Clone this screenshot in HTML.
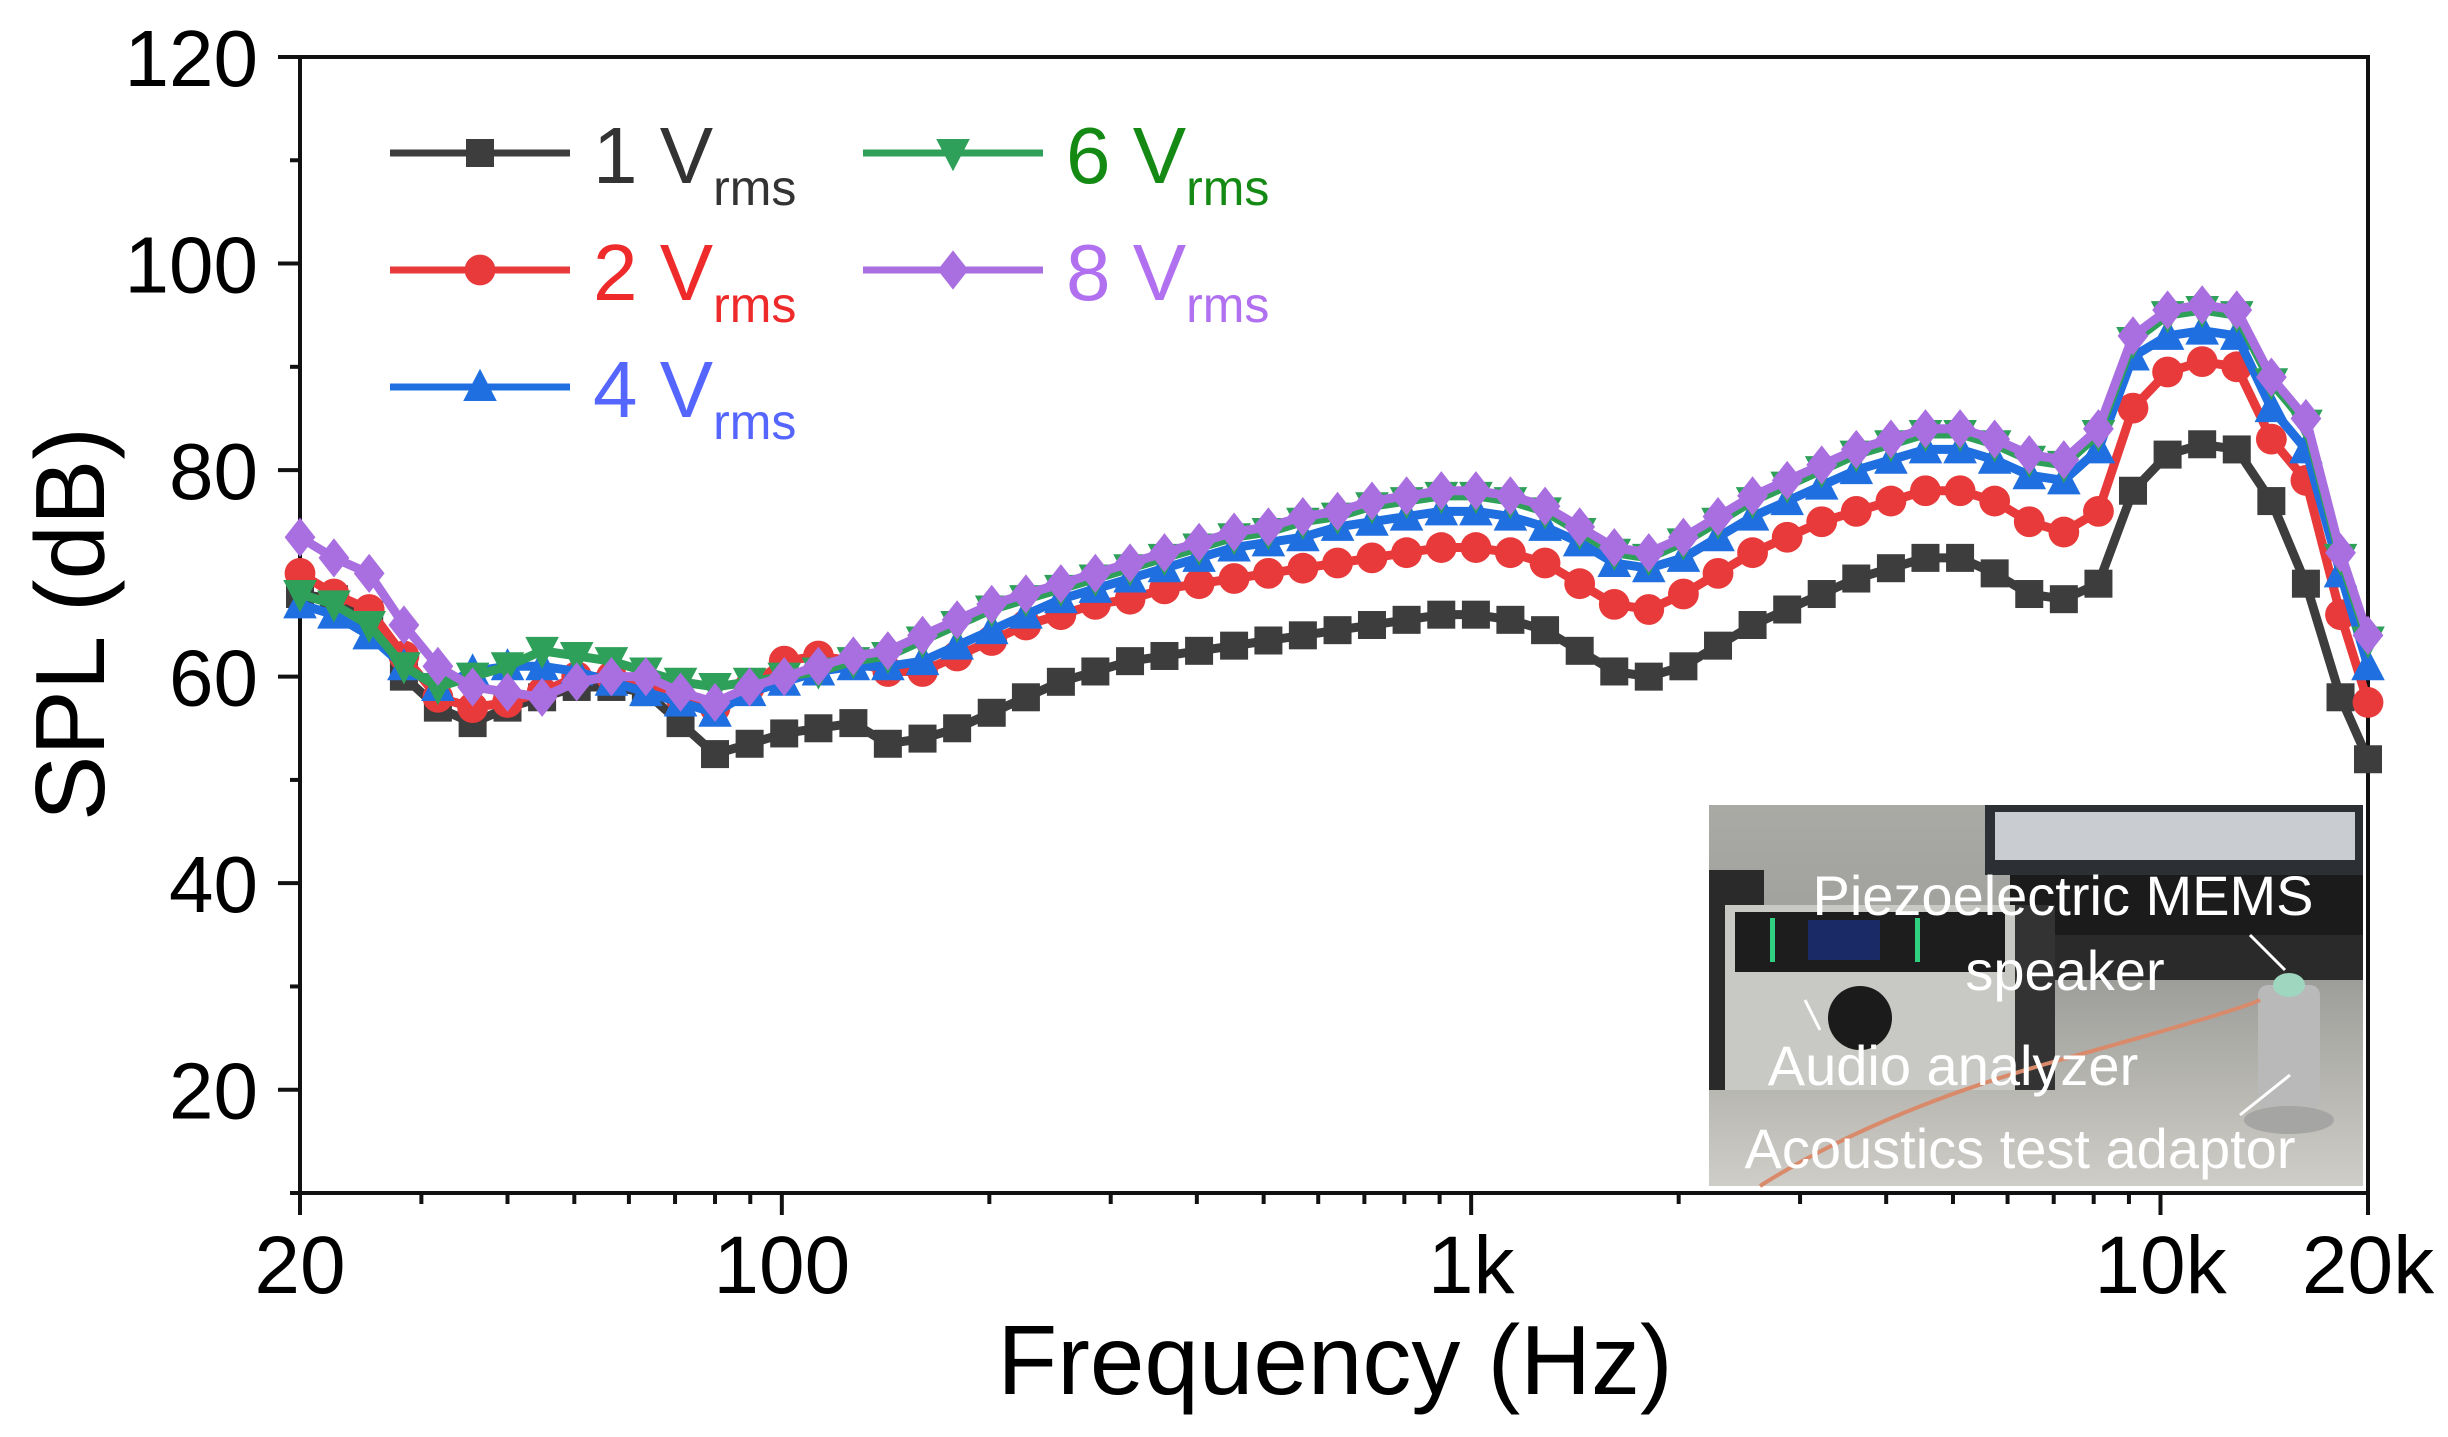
<!DOCTYPE html>
<html><head><meta charset="utf-8"><style>
html,body{margin:0;padding:0;background:#fff;}
svg{display:block;font-family:"Liberation Sans",Arial,sans-serif;}
</style></head><body>
<svg id="chart" width="2448" height="1437" viewBox="0 0 2448 1437" xmlns="http://www.w3.org/2000/svg">
<g id="inset">
  <defs>
    <linearGradient id="bg" x1="0" y1="0" x2="0" y2="1">
      <stop offset="0" stop-color="#a9aaa5"/><stop offset="0.45" stop-color="#9c9d99"/><stop offset="1" stop-color="#cfcdc7"/>
    </linearGradient>
  </defs>
  <rect x="1709" y="805" width="654" height="381" fill="url(#bg)"/>
  <rect x="1985" y="805" width="378" height="70" fill="#2c2f33"/>
  <rect x="1995" y="812" width="360" height="48" fill="#c9ccd0"/>
  <rect x="2010" y="875" width="353" height="60" fill="#1b1b1b"/>
  <rect x="2050" y="935" width="313" height="45" fill="#2a2a2a"/>
  <rect x="1709" y="870" width="55" height="220" fill="#2a2a2a"/>
  <rect x="1725" y="905" width="290" height="185" fill="#c8c8c4"/>
  <rect x="1735" y="912" width="270" height="60" fill="#1d1d1d"/>
  <rect x="1808" y="920" width="72" height="40" fill="#1a2a66"/>
  <rect x="1770" y="918" width="5" height="44" fill="#2fd080"/>
  <rect x="1915" y="918" width="5" height="44" fill="#2fd080"/>
  <circle cx="1860" cy="1018" r="32" fill="#1b1b1b"/>
  <rect x="2015" y="905" width="40" height="185" fill="#333"/>
  <rect x="2258" y="985" width="62" height="125" rx="10" fill="#b9b9b9"/>
  <ellipse cx="2289" cy="985" rx="16" ry="12" fill="#9fd6c0"/>
  <ellipse cx="2289" cy="1120" rx="45" ry="14" fill="#a5a5a3"/>
  <path d="M1760 1186 Q1880 1110 2060 1060 T2260 1000" stroke="#d98a6a" stroke-width="4" fill="none"/>
  <g fill="#fff" font-size="56">
    <text x="2063" y="915" text-anchor="middle">Piezoelectric MEMS</text>
    <text x="2065" y="990" text-anchor="middle">speaker</text>
    <text x="1953" y="1085" text-anchor="middle">Audio analyzer</text>
    <text x="2020" y="1168" text-anchor="middle">Acoustics test adaptor</text>
  </g>
  <g stroke="#fff" stroke-width="3" fill="none">
    <line x1="2250" y1="935" x2="2285" y2="970"/>
    <line x1="1805" y1="1000" x2="1820" y2="1030"/>
    <line x1="2290" y1="1075" x2="2240" y2="1115"/>
  </g>
</g>
<g id="plot"></g>
</svg>
<script>
const freqs = [20,22.4,25.2,28.3,31.7,35.6,40,44.9,50.4,56.6,63.5,71.3,80,89.8,100.8,113,127,142.5,160,179.6,201.6,226,254,285,320,359,403,453,508,570,640,718,806,905,1016,1140,1280,1437,1613,1810,2032,2281,2560,2874,3225,3620,4064,4561,5120,5747,6451,7241,8128,9123,10240,11494,12902,14482,16255,18246,20000];
const v1 = [68,67.5,66,60,57,55.5,57,58,59,59,58.5,55.5,52.5,53.5,54.5,55,55.5,53.5,54,55,56.5,58,59.5,60.5,61.5,62,62.5,63,63.5,64,64.5,65,65.5,66,66,65.5,64.5,62.5,60.5,60,61,63,65,66.5,68,69.5,70.5,71.5,71.5,70,68,67.5,69,78,81.5,82.5,82,77,69,58,52];
const v2 = [70,68,66.5,62,58,57,57.5,58.5,60,60,59.5,58,57,59,61.5,62,61.5,60.5,60.5,62,63.5,65,66,67,67.5,68.5,69,69.5,70,70.5,71,71.5,72,72.5,72.5,72,71,69,67,66.5,68,70,72,73.5,75,76,77,78,78,77,75,74,76,86,89.5,90.5,90,83,79,66,57.5];
const v4 = [67,66,64,61,59,60.5,61,61,60.5,59.5,58.5,57.5,56.5,58.5,59.5,60.5,61,61,61.5,63,64.5,66,67.5,68.5,69.5,70.5,71.5,72.5,73,73.5,74.5,75,75.5,76,76,75.5,74.5,73,71,70.5,71.5,73.5,75.5,77,78.5,80,81,82,82,81,79.5,79,82,91,93,93.5,93,86,82,70,61];
const v6 = [68,67,65,61,59,60,61,62.5,62,61.5,60.5,59.5,59,59.5,60,60.5,61.5,62,63.5,65,66.5,67.5,68.5,69.5,70.5,71.5,72.5,73.5,74,75,75.5,76.5,77,77.5,77.5,77,76,74,72,71.5,73,75,77,78.5,80,81.5,82.5,83.5,83.5,82.5,81,80.5,83.5,92.5,95,95.5,95,88.5,84.5,71.5,63.5];
const v8 = [73.5,71.5,70,65,61,59,58.5,58,59.5,60,60,58.5,57.5,59,60,61,62,62.5,64,65.5,67,68,69,70,71,72,73,74,74.5,75.5,76,77,77.5,78,78,77.5,76.5,74.5,72.5,72,73.5,75.5,77.5,79,80.5,82,83,84,84,83,81.5,81,84,93,95.5,96,95.5,89,85,72,64];
const yTicks = [20,40,60,80,100,120];
const xTickVals = [20,100,1000,10000,20000];
const xTickLabels = ["20","100","1k","10k","20k"];

const NS="http://www.w3.org/2000/svg";
const L=300,R=2368,T=57,B=1193, YMIN=10,YMAX=120;
const xs=f=>L+(R-L)*Math.log10(f/20)/3;
const ys=v=>B-(B-T)*(v-YMIN)/(YMAX-YMIN);
const plot=document.getElementById('plot');
function mk(tag,attrs,parent){const e=document.createElementNS(NS,tag);for(const k in attrs)e.setAttribute(k,attrs[k]);(parent||plot).appendChild(e);return e;}

const frame=mk('rect',{x:L,y:T,width:R-L,height:B-T,fill:'none',stroke:'#111','stroke-width':4});


for(let v=10;v<=120;v+=10){
  const major=v%20===0;
  const t=mk('line',{x1:L-(major?22:10),x2:L,y1:ys(v),y2:ys(v),stroke:'#111','stroke-width':4});
  
  
}
yTicks.forEach(v=>{
  const t=mk('text',{x:258,y:ys(v)+29,'text-anchor':'end','font-size':80,fill:'#000'});
  t.textContent=v;
  
  
});
const minorF=[];
for(let f=30;f<100;f+=10)minorF.push(f);
for(let f=200;f<1000;f+=100)minorF.push(f);
for(let f=2000;f<10000;f+=1000)minorF.push(f);
minorF.forEach(f=>{
  const t=mk('line',{x1:xs(f),x2:xs(f),y1:B,y2:B+11,stroke:'#111','stroke-width':4});
  
  
});
xTickVals.forEach((f,i)=>{
  const t=mk('line',{x1:xs(f),x2:xs(f),y1:B,y2:B+22,stroke:'#111','stroke-width':4});
  
  
  const lb=mk('text',{x:xs(f),y:1293,'text-anchor':'middle','font-size':82,fill:'#000'});
  lb.textContent=xTickLabels[i];
  
  
});
const xt=mk('text',{x:1335,y:1394,'text-anchor':'middle','font-size':98,fill:'#000'});
xt.textContent='Frequency (Hz)';


const yt=mk('text',{x:0,y:0,'text-anchor':'middle','font-size':98,fill:'#000',transform:'translate(104,624) rotate(-90)'});
yt.textContent='SPL (dB)';



function marker(g,type,x,y,color,s){
  let e;
  if(type==='square')e=mk('rect',{x:x-s,y:y-s,width:2*s,height:2*s,fill:color},g);
  else if(type==='circle')e=mk('circle',{cx:x,cy:y,r:s*1.1,fill:color},g);
  else if(type==='up')e=mk('polygon',{points:`${x},${y-s*1.3} ${x-s*1.2},${y+s} ${x+s*1.2},${y+s}`,fill:color},g);
  else if(type==='down')e=mk('polygon',{points:`${x},${y+s*1.3} ${x-s*1.2},${y-s} ${x+s*1.2},${y-s}`,fill:color},g);
  else e=mk('polygon',{points:`${x},${y-s*1.4} ${x+s*1.1},${y} ${x},${y+s*1.4} ${x-s*1.1},${y}`,fill:color},g);
  return e;
}
const series=[
  {name:'series-1vrms',vals:v1,color:'#3d3d3d',m:'square'},
  {name:'series-2vrms',vals:v2,color:'#e83a3a',m:'circle'},
  {name:'series-4vrms',vals:v4,color:'#1f6fe0',m:'up'},
  {name:'series-6vrms',vals:v6,color:'#2ea05a',m:'down'},
  {name:'series-8vrms',vals:v8,color:'#a96fe0',m:'diamond'}
];
series.forEach(s=>{
  const g=mk('g',{});
  
  
  const pts=freqs.map((f,i)=>xs(f)+','+ys(s.vals[i])).join(' ');
  const pl=mk('polyline',{points:pts,fill:'none',stroke:s.color,'stroke-width':9,'stroke-linejoin':'round'},g);
  
  
  freqs.forEach((f,i)=>{
    const e=marker(g,s.m,xs(f),ys(s.vals[i]),s.color,14);
    
    
  });
});
const leg=[
  {lab:'1',x:390,y:153,color:'#3d3d3d',tc:'#333',m:'square'},
  {lab:'2',x:390,y:270,color:'#e83a3a',tc:'#ee2a2a',m:'circle'},
  {lab:'4',x:390,y:387,color:'#1f6fe0',tc:'#5566ff',m:'up'},
  {lab:'6',x:863,y:153,color:'#2ea05a',tc:'#148a14',m:'down'},
  {lab:'8',x:863,y:270,color:'#a96fe0',tc:'#b070f0',m:'diamond'}
];
const lg=mk('g',{});


leg.forEach(e=>{
  const g=mk('g',{},lg);
  
  
  mk('line',{x1:e.x,x2:e.x+180,y1:e.y,y2:e.y,stroke:e.color,'stroke-width':7},g);
  marker(g,e.m,e.x+90,e.y,e.color,14);
  const t=mk('text',{x:e.x+203,y:e.y+30,'font-size':80,fill:e.tc},g);
  t.innerHTML=e.lab+' V<tspan font-size="50" dy="22">rms</tspan>';
});
</script>
</body></html>
